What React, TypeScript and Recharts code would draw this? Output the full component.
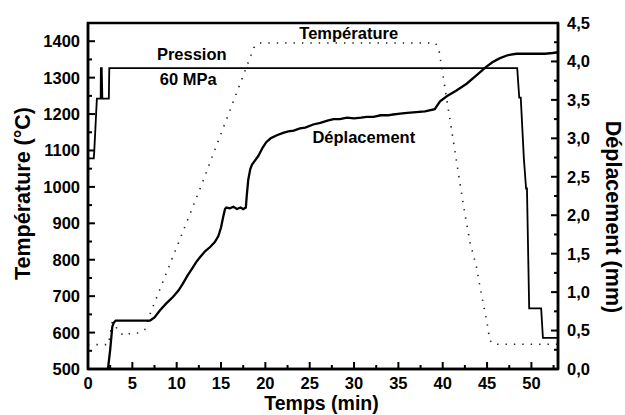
import React from 'react';
import {
  Label,
  Line,
  LineChart,
  ReferenceArea,
  ReferenceDot,
  XAxis,
  YAxis,
} from 'recharts';

const FONT = '"Liberation Sans", Arial, Helvetica, sans-serif';

// Température (°C) — courbe pointillée, axe gauche
const tempTime = [0, 2.3, 2.74, 3.5, 4.06, 4.9, 5.7, 6.4, 6.9, 12.6, 18.7, 19.2, 39.2, 39.6, 42.4, 43.1, 43.8, 44.2, 45.0, 45.3, 45.7, 53];
const tempValue = [567, 567, 630, 603, 591, 599, 599, 608, 645, 993, 1382, 1395, 1395, 1372, 940, 845, 781, 726, 627, 580, 568, 568];

// Déplacement (mm) — axe droit
const dispTime = [
  2.25, 2.5, 2.74, 2.9, 3.12, 7.0, 7.5, 8.1, 8.8, 9.6, 10.2, 10.7, 11.2, 11.7, 12.2, 12.6,
  13.2, 13.8, 14.3, 14.7, 15.0, 15.25, 15.45, 15.6, 16.0, 16.4, 16.8, 17.2, 17.5, 17.8, 17.9,
  18.07, 18.3, 18.5, 19.2, 19.7, 20.1, 20.6, 21.3, 22.0, 22.6, 23.2, 23.9, 24.5, 25.4, 26.2,
  27.0, 27.7, 28.4, 29.2, 30.0, 30.8, 31.4, 32.2, 33.0, 33.8, 34.4, 35.2, 36.0, 37.0, 38.0,
  39.1, 39.7, 40.5, 41.5, 42.7, 43.8, 44.9, 45.6, 46.4, 47.3, 48.3, 49.2, 50.2, 51.5, 52.4, 53.0,
];
const dispValue = [
  0, 0.25, 0.55, 0.6, 0.63, 0.63, 0.67, 0.76, 0.85, 0.94, 1.02, 1.11, 1.21, 1.3, 1.39, 1.45,
  1.53, 1.59, 1.65, 1.73, 1.84, 1.98, 2.08, 2.1, 2.09, 2.11, 2.08, 2.1, 2.08, 2.1, 2.25,
  2.46, 2.6, 2.66, 2.77, 2.88, 2.95, 3.0, 3.04, 3.07, 3.09, 3.1, 3.13, 3.14, 3.18, 3.2,
  3.23, 3.25, 3.25, 3.27, 3.26, 3.27, 3.28, 3.28, 3.3, 3.3, 3.31, 3.32, 3.33, 3.34, 3.35,
  3.38, 3.48, 3.55, 3.62, 3.71, 3.82, 3.93, 3.99, 4.04, 4.08, 4.1, 4.1, 4.1, 4.1, 4.11, 4.12,
];

// Pression (MPa) — axe masqué
const pressTime = [0, 0.65, 0.7, 1.0, 1.43, 1.45, 1.55, 1.62, 2.35, 2.4, 48.4, 48.63, 48.8, 49.15, 49.4, 49.5, 49.75, 51.1, 51.3, 53];
const pressValue = [42, 42, 43.2, 53.9, 53.9, 60, 60, 53.9, 53.9, 60, 60, 54.1, 54.1, 42, 36, 36, 12.1, 12.1, 6.2, 6.2];

const timeTicks = [0, 2.5, 5, 7.5, 10, 12.5, 15, 17.5, 20, 22.5, 25, 27.5, 30, 32.5, 35, 37.5, 40, 42.5, 45, 47.5, 50, 52.5];
const tempTicks = [500, 550, 600, 650, 700, 750, 800, 850, 900, 950, 1000, 1050, 1100, 1150, 1200, 1250, 1300, 1350, 1400, 1450];
const dispTicks = [0, 0.25, 0.5, 0.75, 1, 1.25, 1.5, 1.75, 2, 2.25, 2.5, 2.75, 3, 3.25, 3.5, 3.75, 4, 4.25, 4.5];

const tempData = tempTime.map((t, i) => ({ t, v: tempValue[i] }));
const dispData = dispTime.map((t, i) => ({ t, v: dispValue[i] }));
const pressData = pressTime.map((t, i) => ({ t, v: pressValue[i] }));

const isMultiple = (v: number, step: number) =>
  Math.abs(v / step - Math.round(v / step)) < 1e-6;

const tickText = {
  fontFamily: FONT,
  fontWeight: 700,
  fontSize: 16.5,
  fill: '#000',
};

function LeftTick({ x, y, payload }: any) {
  const major = isMultiple(payload.value, 100);
  return (
    <g>
      <line x1={x} x2={x + (major ? 7 : 4)} y1={y} y2={y} stroke="#000" strokeWidth={2} />
      {major && (
        <text x={x - 8} y={y} dy="0.36em" textAnchor="end" {...tickText}>
          {payload.value}
        </text>
      )}
    </g>
  );
}

function RightTick({ x, y, payload }: any) {
  const major = isMultiple(payload.value, 0.5);
  return (
    <g>
      <line x1={x} x2={x - (major ? 7 : 4)} y1={y} y2={y} stroke="#000" strokeWidth={2} />
      {major && (
        <text x={x + 9} y={y} dy="0.36em" textAnchor="start" {...tickText}>
          {payload.value.toFixed(1).replace('.', ',')}
        </text>
      )}
    </g>
  );
}

function BottomTick({ x, y, payload }: any) {
  const major = isMultiple(payload.value, 5);
  return (
    <g>
      <line x1={x} x2={x} y1={y} y2={y - (major ? 7 : 4)} stroke="#000" strokeWidth={2} />
      {major && (
        <text x={x} y={y + 19.5} textAnchor="middle" {...tickText}>
          {payload.value}
        </text>
      )}
    </g>
  );
}

const titleStyle = { fontFamily: FONT, fontWeight: 700, fill: '#000' };

function LeftTitle({ viewBox }: any) {
  const cx = viewBox.x + viewBox.width - 65.5;
  const cy = 193.5;
  return (
    <text x={cx} y={cy} transform={`rotate(-90 ${cx} ${cy})`} textAnchor="middle" dy="0.36em" fontSize={21.5} {...titleStyle}>
      Température (°C)
    </text>
  );
}

function RightTitle({ viewBox }: any) {
  const cx = viewBox.x + 56;
  const cy = 217;
  return (
    <text x={cx} y={cy} transform={`rotate(90 ${cx} ${cy})`} textAnchor="middle" dy="0.36em" fontSize={21.5} {...titleStyle}>
      Déplacement (mm)
    </text>
  );
}

function BottomTitle({ viewBox }: any) {
  return (
    <text x={viewBox.x + viewBox.width / 2 - 1.5} y={409.5} textAnchor="middle" fontSize={19.5} {...titleStyle}>
      Temps (min)
    </text>
  );
}

const noteLabel = (value: string) => ({
  value,
  position: 'center' as const,
  fontFamily: FONT,
  fontWeight: 700,
  fontSize: 16.5,
  fill: '#000',
});

export default function App() {
  return (
    <div style={{ position: 'absolute', left: 0, top: 0, background: '#fff' }}>
      <LineChart width={625} height={415} margin={{ top: 23, right: 0, bottom: 0, left: 0 }}>
        <XAxis
          dataKey="t"
          type="number"
          domain={[0, 53]}
          ticks={timeTicks}
          interval={0}
          allowDataOverflow
          height={46}
          tickSize={0}
          tickMargin={0}
          tickLine={false}
          axisLine={{ stroke: '#000', strokeWidth: 2.5 }}
          tick={<BottomTick />}
        >
          <Label content={<BottomTitle />} />
        </XAxis>
        <YAxis yAxisId="P" type="number" domain={[0, 69]} hide width={0} />
        <YAxis
          yAxisId="T"
          orientation="left"
          type="number"
          domain={[500, 1450]}
          ticks={tempTicks}
          interval={0}
          allowDataOverflow
          width={88}
          tickSize={0}
          tickMargin={0}
          tickLine={false}
          axisLine={{ stroke: '#000', strokeWidth: 2.5 }}
          tick={<LeftTick />}
        >
          <Label content={<LeftTitle />} />
        </YAxis>
        <YAxis
          yAxisId="D"
          orientation="right"
          type="number"
          domain={[0, 4.5]}
          ticks={dispTicks}
          interval={0}
          allowDataOverflow
          width={67}
          tickSize={0}
          tickMargin={0}
          tickLine={false}
          axisLine={{ stroke: '#000', strokeWidth: 2.5 }}
          tick={<RightTick />}
        >
          <Label content={<RightTitle />} />
        </YAxis>

        <ReferenceArea
          yAxisId="T"
          x1={0}
          x2={53}
          y1={500}
          y2={1450}
          fill="none"
          fillOpacity={0}
          stroke="#000"
          strokeWidth={2.5}
        />

        <Line
          data={tempData}
          yAxisId="T"
          dataKey="v"
          type="linear"
          stroke="#222"
          strokeWidth={1.6}
          strokeDasharray="1.4 7"
          dot={false}
          activeDot={false}
          isAnimationActive={false}
        />
        <Line
          data={pressData}
          yAxisId="P"
          dataKey="v"
          type="linear"
          stroke="#000"
          strokeWidth={1.8}
          dot={false}
          activeDot={false}
          isAnimationActive={false}
        />
        <Line
          data={dispData}
          yAxisId="D"
          dataKey="v"
          type="linear"
          stroke="#000"
          strokeWidth={2.3}
          dot={false}
          activeDot={false}
          isAnimationActive={false}
        />

        <ReferenceDot yAxisId="T" x={11.7} y={1365} r={0} fill="none" stroke="none" label={noteLabel('Pression')} />
        <ReferenceDot yAxisId="T" x={11.3} y={1297} r={0} fill="none" stroke="none" label={noteLabel('60 MPa')} />
        <ReferenceDot yAxisId="T" x={29.4} y={1421} r={0} fill="none" stroke="none" label={noteLabel('Température')} />
        <ReferenceDot yAxisId="T" x={31.1} y={1136} r={0} fill="none" stroke="none" label={noteLabel('Déplacement')} />
      </LineChart>
    </div>
  );
}
